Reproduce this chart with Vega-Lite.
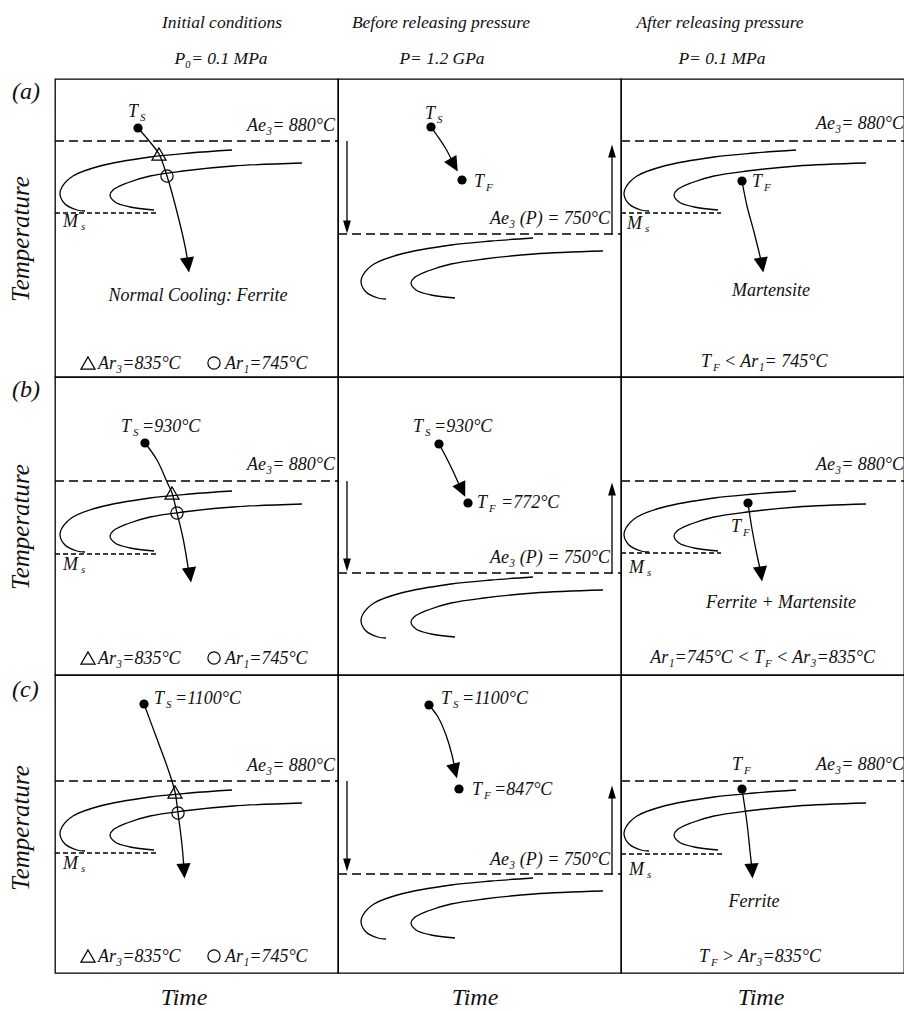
{
  "$schema": "https://vega.github.io/schema/vega-lite/v6.json",
  "padding": {"left": 8, "top": 13, "right": 0, "bottom": 0},
  "background": "white",
  "data": {"values": [
    {"row":"a","col":"initial","kind":"curve","curve":"outer","i":0,"t":177,"T":227},
    {"row":"a","col":"initial","kind":"curve","curve":"outer","i":1,"t":135,"T":224},
    {"row":"a","col":"initial","kind":"curve","curve":"outer","i":2,"t":95,"T":220},
    {"row":"a","col":"initial","kind":"curve","curve":"outer","i":3,"t":45,"T":211},
    {"row":"a","col":"initial","kind":"curve","curve":"outer","i":4,"t":18,"T":201},
    {"row":"a","col":"initial","kind":"curve","curve":"outer","i":5,"t":7,"T":190},
    {"row":"a","col":"initial","kind":"curve","curve":"outer","i":6,"t":5,"T":183},
    {"row":"a","col":"initial","kind":"curve","curve":"outer","i":7,"t":10,"T":173},
    {"row":"a","col":"initial","kind":"curve","curve":"outer","i":8,"t":22,"T":167},
    {"row":"a","col":"initial","kind":"curve","curve":"outer","i":9,"t":30,"T":166},
    {"row":"a","col":"initial","kind":"curve","curve":"inner","i":0,"t":247,"T":214},
    {"row":"a","col":"initial","kind":"curve","curve":"inner","i":1,"t":178,"T":211},
    {"row":"a","col":"initial","kind":"curve","curve":"inner","i":2,"t":128,"T":206},
    {"row":"a","col":"initial","kind":"curve","curve":"inner","i":3,"t":95,"T":201},
    {"row":"a","col":"initial","kind":"curve","curve":"inner","i":4,"t":72,"T":194},
    {"row":"a","col":"initial","kind":"curve","curve":"inner","i":5,"t":58,"T":187},
    {"row":"a","col":"initial","kind":"curve","curve":"inner","i":6,"t":55,"T":182},
    {"row":"a","col":"initial","kind":"curve","curve":"inner","i":7,"t":60,"T":175},
    {"row":"a","col":"initial","kind":"curve","curve":"inner","i":8,"t":75,"T":170},
    {"row":"a","col":"initial","kind":"curve","curve":"inner","i":9,"t":99,"T":167},
    {"row":"b","col":"initial","kind":"curve","curve":"outer","i":0,"t":177,"T":184},
    {"row":"b","col":"initial","kind":"curve","curve":"outer","i":1,"t":135,"T":181},
    {"row":"b","col":"initial","kind":"curve","curve":"outer","i":2,"t":95,"T":177},
    {"row":"b","col":"initial","kind":"curve","curve":"outer","i":3,"t":45,"T":168},
    {"row":"b","col":"initial","kind":"curve","curve":"outer","i":4,"t":18,"T":158},
    {"row":"b","col":"initial","kind":"curve","curve":"outer","i":5,"t":7,"T":147},
    {"row":"b","col":"initial","kind":"curve","curve":"outer","i":6,"t":5,"T":140},
    {"row":"b","col":"initial","kind":"curve","curve":"outer","i":7,"t":10,"T":130},
    {"row":"b","col":"initial","kind":"curve","curve":"outer","i":8,"t":22,"T":124},
    {"row":"b","col":"initial","kind":"curve","curve":"outer","i":9,"t":30,"T":123},
    {"row":"b","col":"initial","kind":"curve","curve":"inner","i":0,"t":247,"T":171},
    {"row":"b","col":"initial","kind":"curve","curve":"inner","i":1,"t":178,"T":168},
    {"row":"b","col":"initial","kind":"curve","curve":"inner","i":2,"t":128,"T":163},
    {"row":"b","col":"initial","kind":"curve","curve":"inner","i":3,"t":95,"T":158},
    {"row":"b","col":"initial","kind":"curve","curve":"inner","i":4,"t":72,"T":151},
    {"row":"b","col":"initial","kind":"curve","curve":"inner","i":5,"t":58,"T":144},
    {"row":"b","col":"initial","kind":"curve","curve":"inner","i":6,"t":55,"T":139},
    {"row":"b","col":"initial","kind":"curve","curve":"inner","i":7,"t":60,"T":132},
    {"row":"b","col":"initial","kind":"curve","curve":"inner","i":8,"t":75,"T":127},
    {"row":"b","col":"initial","kind":"curve","curve":"inner","i":9,"t":99,"T":124},
    {"row":"c","col":"initial","kind":"curve","curve":"outer","i":0,"t":177,"T":183},
    {"row":"c","col":"initial","kind":"curve","curve":"outer","i":1,"t":135,"T":180},
    {"row":"c","col":"initial","kind":"curve","curve":"outer","i":2,"t":95,"T":176},
    {"row":"c","col":"initial","kind":"curve","curve":"outer","i":3,"t":45,"T":167},
    {"row":"c","col":"initial","kind":"curve","curve":"outer","i":4,"t":18,"T":157},
    {"row":"c","col":"initial","kind":"curve","curve":"outer","i":5,"t":7,"T":146},
    {"row":"c","col":"initial","kind":"curve","curve":"outer","i":6,"t":5,"T":139},
    {"row":"c","col":"initial","kind":"curve","curve":"outer","i":7,"t":10,"T":129},
    {"row":"c","col":"initial","kind":"curve","curve":"outer","i":8,"t":22,"T":123},
    {"row":"c","col":"initial","kind":"curve","curve":"outer","i":9,"t":30,"T":122},
    {"row":"c","col":"initial","kind":"curve","curve":"inner","i":0,"t":247,"T":170},
    {"row":"c","col":"initial","kind":"curve","curve":"inner","i":1,"t":178,"T":167},
    {"row":"c","col":"initial","kind":"curve","curve":"inner","i":2,"t":128,"T":162},
    {"row":"c","col":"initial","kind":"curve","curve":"inner","i":3,"t":95,"T":157},
    {"row":"c","col":"initial","kind":"curve","curve":"inner","i":4,"t":72,"T":150},
    {"row":"c","col":"initial","kind":"curve","curve":"inner","i":5,"t":58,"T":143},
    {"row":"c","col":"initial","kind":"curve","curve":"inner","i":6,"t":55,"T":138},
    {"row":"c","col":"initial","kind":"curve","curve":"inner","i":7,"t":60,"T":131},
    {"row":"c","col":"initial","kind":"curve","curve":"inner","i":8,"t":75,"T":126},
    {"row":"c","col":"initial","kind":"curve","curve":"inner","i":9,"t":99,"T":123},
    {"row":"a","col":"after","kind":"curve","curve":"outer","i":0,"t":175,"T":227},
    {"row":"a","col":"after","kind":"curve","curve":"outer","i":1,"t":133,"T":224},
    {"row":"a","col":"after","kind":"curve","curve":"outer","i":2,"t":93,"T":220},
    {"row":"a","col":"after","kind":"curve","curve":"outer","i":3,"t":43,"T":211},
    {"row":"a","col":"after","kind":"curve","curve":"outer","i":4,"t":16,"T":201},
    {"row":"a","col":"after","kind":"curve","curve":"outer","i":5,"t":5,"T":190},
    {"row":"a","col":"after","kind":"curve","curve":"outer","i":6,"t":3,"T":183},
    {"row":"a","col":"after","kind":"curve","curve":"outer","i":7,"t":8,"T":173},
    {"row":"a","col":"after","kind":"curve","curve":"outer","i":8,"t":20,"T":167},
    {"row":"a","col":"after","kind":"curve","curve":"outer","i":9,"t":28,"T":166},
    {"row":"a","col":"after","kind":"curve","curve":"inner","i":0,"t":245,"T":214},
    {"row":"a","col":"after","kind":"curve","curve":"inner","i":1,"t":176,"T":211},
    {"row":"a","col":"after","kind":"curve","curve":"inner","i":2,"t":126,"T":206},
    {"row":"a","col":"after","kind":"curve","curve":"inner","i":3,"t":93,"T":201},
    {"row":"a","col":"after","kind":"curve","curve":"inner","i":4,"t":70,"T":194},
    {"row":"a","col":"after","kind":"curve","curve":"inner","i":5,"t":56,"T":187},
    {"row":"a","col":"after","kind":"curve","curve":"inner","i":6,"t":53,"T":182},
    {"row":"a","col":"after","kind":"curve","curve":"inner","i":7,"t":58,"T":175},
    {"row":"a","col":"after","kind":"curve","curve":"inner","i":8,"t":73,"T":170},
    {"row":"a","col":"after","kind":"curve","curve":"inner","i":9,"t":97,"T":167},
    {"row":"b","col":"after","kind":"curve","curve":"outer","i":0,"t":175,"T":184},
    {"row":"b","col":"after","kind":"curve","curve":"outer","i":1,"t":133,"T":181},
    {"row":"b","col":"after","kind":"curve","curve":"outer","i":2,"t":93,"T":177},
    {"row":"b","col":"after","kind":"curve","curve":"outer","i":3,"t":43,"T":168},
    {"row":"b","col":"after","kind":"curve","curve":"outer","i":4,"t":16,"T":158},
    {"row":"b","col":"after","kind":"curve","curve":"outer","i":5,"t":5,"T":147},
    {"row":"b","col":"after","kind":"curve","curve":"outer","i":6,"t":3,"T":140},
    {"row":"b","col":"after","kind":"curve","curve":"outer","i":7,"t":8,"T":130},
    {"row":"b","col":"after","kind":"curve","curve":"outer","i":8,"t":20,"T":124},
    {"row":"b","col":"after","kind":"curve","curve":"outer","i":9,"t":28,"T":123},
    {"row":"b","col":"after","kind":"curve","curve":"inner","i":0,"t":245,"T":171},
    {"row":"b","col":"after","kind":"curve","curve":"inner","i":1,"t":176,"T":168},
    {"row":"b","col":"after","kind":"curve","curve":"inner","i":2,"t":126,"T":163},
    {"row":"b","col":"after","kind":"curve","curve":"inner","i":3,"t":93,"T":158},
    {"row":"b","col":"after","kind":"curve","curve":"inner","i":4,"t":70,"T":151},
    {"row":"b","col":"after","kind":"curve","curve":"inner","i":5,"t":56,"T":144},
    {"row":"b","col":"after","kind":"curve","curve":"inner","i":6,"t":53,"T":139},
    {"row":"b","col":"after","kind":"curve","curve":"inner","i":7,"t":58,"T":132},
    {"row":"b","col":"after","kind":"curve","curve":"inner","i":8,"t":73,"T":127},
    {"row":"b","col":"after","kind":"curve","curve":"inner","i":9,"t":97,"T":124},
    {"row":"c","col":"after","kind":"curve","curve":"outer","i":0,"t":175,"T":183},
    {"row":"c","col":"after","kind":"curve","curve":"outer","i":1,"t":133,"T":180},
    {"row":"c","col":"after","kind":"curve","curve":"outer","i":2,"t":93,"T":176},
    {"row":"c","col":"after","kind":"curve","curve":"outer","i":3,"t":43,"T":167},
    {"row":"c","col":"after","kind":"curve","curve":"outer","i":4,"t":16,"T":157},
    {"row":"c","col":"after","kind":"curve","curve":"outer","i":5,"t":5,"T":146},
    {"row":"c","col":"after","kind":"curve","curve":"outer","i":6,"t":3,"T":139},
    {"row":"c","col":"after","kind":"curve","curve":"outer","i":7,"t":8,"T":129},
    {"row":"c","col":"after","kind":"curve","curve":"outer","i":8,"t":20,"T":123},
    {"row":"c","col":"after","kind":"curve","curve":"outer","i":9,"t":28,"T":122},
    {"row":"c","col":"after","kind":"curve","curve":"inner","i":0,"t":245,"T":170},
    {"row":"c","col":"after","kind":"curve","curve":"inner","i":1,"t":176,"T":167},
    {"row":"c","col":"after","kind":"curve","curve":"inner","i":2,"t":126,"T":162},
    {"row":"c","col":"after","kind":"curve","curve":"inner","i":3,"t":93,"T":157},
    {"row":"c","col":"after","kind":"curve","curve":"inner","i":4,"t":70,"T":150},
    {"row":"c","col":"after","kind":"curve","curve":"inner","i":5,"t":56,"T":143},
    {"row":"c","col":"after","kind":"curve","curve":"inner","i":6,"t":53,"T":138},
    {"row":"c","col":"after","kind":"curve","curve":"inner","i":7,"t":58,"T":131},
    {"row":"c","col":"after","kind":"curve","curve":"inner","i":8,"t":73,"T":126},
    {"row":"c","col":"after","kind":"curve","curve":"inner","i":9,"t":97,"T":123},
    {"row":"a","col":"before","kind":"curve","curve":"outer","i":0,"t":195,"T":139},
    {"row":"a","col":"before","kind":"curve","curve":"outer","i":1,"t":153,"T":136},
    {"row":"a","col":"before","kind":"curve","curve":"outer","i":2,"t":113,"T":132},
    {"row":"a","col":"before","kind":"curve","curve":"outer","i":3,"t":63,"T":123},
    {"row":"a","col":"before","kind":"curve","curve":"outer","i":4,"t":36,"T":113},
    {"row":"a","col":"before","kind":"curve","curve":"outer","i":5,"t":25,"T":102},
    {"row":"a","col":"before","kind":"curve","curve":"outer","i":6,"t":23,"T":95},
    {"row":"a","col":"before","kind":"curve","curve":"outer","i":7,"t":28,"T":85},
    {"row":"a","col":"before","kind":"curve","curve":"outer","i":8,"t":40,"T":79},
    {"row":"a","col":"before","kind":"curve","curve":"outer","i":9,"t":48,"T":78},
    {"row":"a","col":"before","kind":"curve","curve":"inner","i":0,"t":265,"T":126},
    {"row":"a","col":"before","kind":"curve","curve":"inner","i":1,"t":196,"T":123},
    {"row":"a","col":"before","kind":"curve","curve":"inner","i":2,"t":146,"T":118},
    {"row":"a","col":"before","kind":"curve","curve":"inner","i":3,"t":113,"T":113},
    {"row":"a","col":"before","kind":"curve","curve":"inner","i":4,"t":90,"T":106},
    {"row":"a","col":"before","kind":"curve","curve":"inner","i":5,"t":76,"T":99},
    {"row":"a","col":"before","kind":"curve","curve":"inner","i":6,"t":73,"T":94},
    {"row":"a","col":"before","kind":"curve","curve":"inner","i":7,"t":78,"T":87},
    {"row":"a","col":"before","kind":"curve","curve":"inner","i":8,"t":93,"T":82},
    {"row":"a","col":"before","kind":"curve","curve":"inner","i":9,"t":117,"T":79},
    {"row":"b","col":"before","kind":"curve","curve":"outer","i":0,"t":195,"T":98},
    {"row":"b","col":"before","kind":"curve","curve":"outer","i":1,"t":153,"T":95},
    {"row":"b","col":"before","kind":"curve","curve":"outer","i":2,"t":113,"T":91},
    {"row":"b","col":"before","kind":"curve","curve":"outer","i":3,"t":63,"T":82},
    {"row":"b","col":"before","kind":"curve","curve":"outer","i":4,"t":36,"T":72},
    {"row":"b","col":"before","kind":"curve","curve":"outer","i":5,"t":25,"T":61},
    {"row":"b","col":"before","kind":"curve","curve":"outer","i":6,"t":23,"T":54},
    {"row":"b","col":"before","kind":"curve","curve":"outer","i":7,"t":28,"T":44},
    {"row":"b","col":"before","kind":"curve","curve":"outer","i":8,"t":40,"T":38},
    {"row":"b","col":"before","kind":"curve","curve":"outer","i":9,"t":48,"T":37},
    {"row":"b","col":"before","kind":"curve","curve":"inner","i":0,"t":265,"T":85},
    {"row":"b","col":"before","kind":"curve","curve":"inner","i":1,"t":196,"T":82},
    {"row":"b","col":"before","kind":"curve","curve":"inner","i":2,"t":146,"T":77},
    {"row":"b","col":"before","kind":"curve","curve":"inner","i":3,"t":113,"T":72},
    {"row":"b","col":"before","kind":"curve","curve":"inner","i":4,"t":90,"T":65},
    {"row":"b","col":"before","kind":"curve","curve":"inner","i":5,"t":76,"T":58},
    {"row":"b","col":"before","kind":"curve","curve":"inner","i":6,"t":73,"T":53},
    {"row":"b","col":"before","kind":"curve","curve":"inner","i":7,"t":78,"T":46},
    {"row":"b","col":"before","kind":"curve","curve":"inner","i":8,"t":93,"T":41},
    {"row":"b","col":"before","kind":"curve","curve":"inner","i":9,"t":117,"T":38},
    {"row":"c","col":"before","kind":"curve","curve":"outer","i":0,"t":195,"T":95},
    {"row":"c","col":"before","kind":"curve","curve":"outer","i":1,"t":153,"T":92},
    {"row":"c","col":"before","kind":"curve","curve":"outer","i":2,"t":113,"T":88},
    {"row":"c","col":"before","kind":"curve","curve":"outer","i":3,"t":63,"T":79},
    {"row":"c","col":"before","kind":"curve","curve":"outer","i":4,"t":36,"T":69},
    {"row":"c","col":"before","kind":"curve","curve":"outer","i":5,"t":25,"T":58},
    {"row":"c","col":"before","kind":"curve","curve":"outer","i":6,"t":23,"T":51},
    {"row":"c","col":"before","kind":"curve","curve":"outer","i":7,"t":28,"T":41},
    {"row":"c","col":"before","kind":"curve","curve":"outer","i":8,"t":40,"T":35},
    {"row":"c","col":"before","kind":"curve","curve":"outer","i":9,"t":48,"T":34},
    {"row":"c","col":"before","kind":"curve","curve":"inner","i":0,"t":265,"T":82},
    {"row":"c","col":"before","kind":"curve","curve":"inner","i":1,"t":196,"T":79},
    {"row":"c","col":"before","kind":"curve","curve":"inner","i":2,"t":146,"T":74},
    {"row":"c","col":"before","kind":"curve","curve":"inner","i":3,"t":113,"T":69},
    {"row":"c","col":"before","kind":"curve","curve":"inner","i":4,"t":90,"T":62},
    {"row":"c","col":"before","kind":"curve","curve":"inner","i":5,"t":76,"T":55},
    {"row":"c","col":"before","kind":"curve","curve":"inner","i":6,"t":73,"T":50},
    {"row":"c","col":"before","kind":"curve","curve":"inner","i":7,"t":78,"T":43},
    {"row":"c","col":"before","kind":"curve","curve":"inner","i":8,"t":93,"T":38},
    {"row":"c","col":"before","kind":"curve","curve":"inner","i":9,"t":117,"T":35},

    {"row":"a","col":"initial","kind":"curve","curve":"path","i":0,"t":83,"T":249},
    {"row":"a","col":"initial","kind":"curve","curve":"path","i":1,"t":95,"T":235},
    {"row":"a","col":"initial","kind":"curve","curve":"path","i":2,"t":104,"T":223},
    {"row":"a","col":"initial","kind":"curve","curve":"path","i":3,"t":112,"T":201},
    {"row":"a","col":"initial","kind":"curve","curve":"path","i":4,"t":122,"T":165},
    {"row":"a","col":"initial","kind":"curve","curve":"path","i":5,"t":130,"T":131},
    {"row":"a","col":"initial","kind":"curve","curve":"path","i":6,"t":133,"T":114},
    {"row":"a","col":"before","kind":"curve","curve":"path","i":0,"t":93,"T":250},
    {"row":"a","col":"before","kind":"curve","curve":"path","i":1,"t":98,"T":243},
    {"row":"a","col":"before","kind":"curve","curve":"path","i":2,"t":108,"T":228},
    {"row":"a","col":"before","kind":"curve","curve":"path","i":3,"t":116,"T":212},
    {"row":"a","col":"after","kind":"curve","curve":"path","i":0,"t":121,"T":196},
    {"row":"a","col":"after","kind":"curve","curve":"path","i":1,"t":126,"T":171},
    {"row":"a","col":"after","kind":"curve","curve":"path","i":2,"t":133,"T":145},
    {"row":"a","col":"after","kind":"curve","curve":"path","i":3,"t":138,"T":125},
    {"row":"a","col":"after","kind":"curve","curve":"path","i":4,"t":141,"T":112},
    {"row":"b","col":"initial","kind":"curve","curve":"path","i":0,"t":90,"T":232},
    {"row":"b","col":"initial","kind":"curve","curve":"path","i":1,"t":102,"T":215},
    {"row":"b","col":"initial","kind":"curve","curve":"path","i":2,"t":112,"T":193},
    {"row":"b","col":"initial","kind":"curve","curve":"path","i":3,"t":117,"T":182},
    {"row":"b","col":"initial","kind":"curve","curve":"path","i":4,"t":122,"T":162},
    {"row":"b","col":"initial","kind":"curve","curve":"path","i":5,"t":128,"T":137},
    {"row":"b","col":"initial","kind":"curve","curve":"path","i":6,"t":134,"T":102},
    {"row":"b","col":"before","kind":"curve","curve":"path","i":0,"t":101,"T":231},
    {"row":"b","col":"before","kind":"curve","curve":"path","i":1,"t":107,"T":220},
    {"row":"b","col":"before","kind":"curve","curve":"path","i":2,"t":114,"T":206},
    {"row":"b","col":"before","kind":"curve","curve":"path","i":3,"t":123,"T":186},
    {"row":"b","col":"after","kind":"curve","curve":"path","i":0,"t":127,"T":172},
    {"row":"b","col":"after","kind":"curve","curve":"path","i":1,"t":131,"T":146},
    {"row":"b","col":"after","kind":"curve","curve":"path","i":2,"t":136,"T":120},
    {"row":"b","col":"after","kind":"curve","curve":"path","i":3,"t":140,"T":102},
    {"row":"c","col":"initial","kind":"curve","curve":"path","i":0,"t":89,"T":269},
    {"row":"c","col":"initial","kind":"curve","curve":"path","i":1,"t":102,"T":234},
    {"row":"c","col":"initial","kind":"curve","curve":"path","i":2,"t":113,"T":204},
    {"row":"c","col":"initial","kind":"curve","curve":"path","i":3,"t":120,"T":181},
    {"row":"c","col":"initial","kind":"curve","curve":"path","i":4,"t":123,"T":160},
    {"row":"c","col":"initial","kind":"curve","curve":"path","i":5,"t":127,"T":128},
    {"row":"c","col":"initial","kind":"curve","curve":"path","i":6,"t":129,"T":104},
    {"row":"c","col":"before","kind":"curve","curve":"path","i":0,"t":91,"T":268},
    {"row":"c","col":"before","kind":"curve","curve":"path","i":1,"t":100,"T":256},
    {"row":"c","col":"before","kind":"curve","curve":"path","i":2,"t":108,"T":238},
    {"row":"c","col":"before","kind":"curve","curve":"path","i":3,"t":114,"T":218},
    {"row":"c","col":"before","kind":"curve","curve":"path","i":4,"t":117,"T":203},
    {"row":"c","col":"after","kind":"curve","curve":"path","i":0,"t":121,"T":184},
    {"row":"c","col":"after","kind":"curve","curve":"path","i":1,"t":126,"T":150},
    {"row":"c","col":"after","kind":"curve","curve":"path","i":2,"t":129,"T":122},
    {"row":"c","col":"after","kind":"curve","curve":"path","i":3,"t":131,"T":104},

    {"row":"a","col":"initial","kind":"head","head":"main","t":133,"T":112,"heading":172},
    {"row":"a","col":"before","kind":"head","head":"main","t":116,"T":212,"heading":150},
    {"row":"a","col":"before","kind":"head","head":"thin","t":9,"T":150,"heading":180},
    {"row":"a","col":"before","kind":"head","head":"thin","t":274,"T":226,"heading":0},
    {"row":"a","col":"after","kind":"head","head":"main","t":141,"T":112,"heading":170},
    {"row":"b","col":"initial","kind":"head","head":"main","t":135,"T":100,"heading":172},
    {"row":"b","col":"before","kind":"head","head":"main","t":124,"T":185,"heading":155},
    {"row":"b","col":"before","kind":"head","head":"thin","t":9,"T":110,"heading":180},
    {"row":"b","col":"before","kind":"head","head":"thin","t":274,"T":186,"heading":0},
    {"row":"b","col":"after","kind":"head","head":"main","t":140,"T":101,"heading":172},
    {"row":"c","col":"initial","kind":"head","head":"main","t":129,"T":102,"heading":176},
    {"row":"c","col":"before","kind":"head","head":"main","t":117,"T":202,"heading":165},
    {"row":"c","col":"before","kind":"head","head":"thin","t":9,"T":108,"heading":180},
    {"row":"c","col":"before","kind":"head","head":"thin","t":274,"T":181,"heading":0},
    {"row":"c","col":"after","kind":"head","head":"main","t":131,"T":102,"heading":176},

    {"row":"a","col":"initial","kind":"rule","line":"Ae3","t":0,"t2":283,"T":236,"T2":236},
    {"row":"a","col":"initial","kind":"rule","line":"Ms","t":0,"t2":101,"T":164,"T2":164},
    {"row":"a","col":"before","kind":"rule","line":"Ae3","t":0,"t2":283,"T":143,"T2":143},
    {"row":"a","col":"before","kind":"rule","line":"shaft","t":9,"t2":9,"T":236,"T2":150},
    {"row":"a","col":"before","kind":"rule","line":"shaft","t":274,"t2":274,"T":143,"T2":226},
    {"row":"a","col":"after","kind":"rule","line":"Ae3","t":0,"t2":283,"T":236,"T2":236},
    {"row":"a","col":"after","kind":"rule","line":"Ms","t":0,"t2":100,"T":164,"T2":164},
    {"row":"b","col":"initial","kind":"rule","line":"Ae3","t":0,"t2":283,"T":194,"T2":194},
    {"row":"b","col":"initial","kind":"rule","line":"Ms","t":0,"t2":101,"T":121,"T2":121},
    {"row":"b","col":"before","kind":"rule","line":"Ae3","t":0,"t2":283,"T":102,"T2":102},
    {"row":"b","col":"before","kind":"rule","line":"shaft","t":9,"t2":9,"T":194,"T2":110},
    {"row":"b","col":"before","kind":"rule","line":"shaft","t":274,"t2":274,"T":102,"T2":186},
    {"row":"b","col":"after","kind":"rule","line":"Ae3","t":0,"t2":283,"T":194,"T2":194},
    {"row":"b","col":"after","kind":"rule","line":"Ms","t":0,"t2":100,"T":122,"T2":122},
    {"row":"c","col":"initial","kind":"rule","line":"Ae3","t":0,"t2":283,"T":192,"T2":192},
    {"row":"c","col":"initial","kind":"rule","line":"Ms","t":0,"t2":101,"T":120,"T2":120},
    {"row":"c","col":"before","kind":"rule","line":"Ae3","t":0,"t2":283,"T":99,"T2":99},
    {"row":"c","col":"before","kind":"rule","line":"shaft","t":9,"t2":9,"T":192,"T2":108},
    {"row":"c","col":"before","kind":"rule","line":"shaft","t":274,"t2":274,"T":99,"T2":181},
    {"row":"c","col":"after","kind":"rule","line":"Ae3","t":0,"t2":283,"T":192,"T2":192},
    {"row":"c","col":"after","kind":"rule","line":"Ms","t":0,"t2":102,"T":119,"T2":119},

    {"row":"a","col":"initial","kind":"dot","t":83,"T":249},
    {"row":"a","col":"before","kind":"dot","t":93,"T":250},
    {"row":"a","col":"before","kind":"dot","t":124,"T":197},
    {"row":"a","col":"after","kind":"dot","t":121,"T":196},
    {"row":"b","col":"initial","kind":"dot","t":90,"T":232},
    {"row":"b","col":"before","kind":"dot","t":101,"T":231},
    {"row":"b","col":"before","kind":"dot","t":130,"T":172},
    {"row":"b","col":"after","kind":"dot","t":127,"T":172},
    {"row":"c","col":"initial","kind":"dot","t":89,"T":269},
    {"row":"c","col":"before","kind":"dot","t":91,"T":268},
    {"row":"c","col":"before","kind":"dot","t":121,"T":184},
    {"row":"c","col":"after","kind":"dot","t":121,"T":184},

    {"row":"a","col":"initial","kind":"marker","symbol":"Ar3","t":104,"T":223},
    {"row":"a","col":"initial","kind":"marker","symbol":"Ar1","t":112,"T":201},
    {"row":"a","col":"initial","kind":"marker","symbol":"Ar3","t":33,"T":14},
    {"row":"a","col":"initial","kind":"marker","symbol":"Ar1","t":159,"T":14},
    {"row":"b","col":"initial","kind":"marker","symbol":"Ar3","t":117,"T":182},
    {"row":"b","col":"initial","kind":"marker","symbol":"Ar1","t":122,"T":162},
    {"row":"b","col":"initial","kind":"marker","symbol":"Ar3","t":33,"T":17},
    {"row":"b","col":"initial","kind":"marker","symbol":"Ar1","t":159,"T":17},
    {"row":"c","col":"initial","kind":"marker","symbol":"Ar3","t":120,"T":181},
    {"row":"c","col":"initial","kind":"marker","symbol":"Ar1","t":123,"T":160},
    {"row":"c","col":"initial","kind":"marker","symbol":"Ar3","t":33,"T":17},
    {"row":"c","col":"initial","kind":"marker","symbol":"Ar1","t":159,"T":17},

    {"row":"a","col":"initial","kind":"text","role":"tag","anchor":"start","t":-43,"T":278,"text":"(a)"},
    {"row":"a","col":"initial","kind":"text","role":"ytitle","anchor":"rot","t":-26,"T":138,"text":"Temperature"},
    {"row":"a","col":"initial","kind":"text","role":"head","anchor":"middle","t":167,"T":349,"text":"Initial conditions"},
    {"row":"a","col":"initial","kind":"text","role":"head","anchor":"middle","t":166,"T":313,"text":"P₀= 0.1 MPa"},
    {"row":"a","col":"initial","kind":"text","role":"label","anchor":"end","t":280,"T":246,"text":"Ae₃= 880°C"},
    {"row":"a","col":"initial","kind":"text","role":"label","anchor":"start","t":73,"T":260,"text":"T"},
    {"row":"a","col":"initial","kind":"text","role":"sub","anchor":"start","t":85,"T":256,"text":"S"},
    {"row":"a","col":"initial","kind":"text","role":"label","anchor":"start","t":8,"T":150,"text":"M"},
    {"row":"a","col":"initial","kind":"text","role":"sub","anchor":"start","t":26,"T":147,"text":"s"},
    {"row":"a","col":"initial","kind":"text","role":"label","anchor":"middle","t":143,"T":76,"text":"Normal Cooling: Ferrite"},
    {"row":"a","col":"initial","kind":"text","role":"label","anchor":"start","t":43,"T":8,"text":"Ar₃=835°C"},
    {"row":"a","col":"initial","kind":"text","role":"label","anchor":"start","t":170,"T":8,"text":"Ar₁=745°C"},
    {"row":"a","col":"before","kind":"text","role":"head","anchor":"middle","t":103,"T":349,"text":"Before releasing pressure"},
    {"row":"a","col":"before","kind":"text","role":"head","anchor":"middle","t":104,"T":313,"text":"P= 1.2 GPa"},
    {"row":"a","col":"before","kind":"text","role":"label","anchor":"start","t":87,"T":258,"text":"T"},
    {"row":"a","col":"before","kind":"text","role":"sub","anchor":"start","t":99,"T":254,"text":"S"},
    {"row":"a","col":"before","kind":"text","role":"label","anchor":"start","t":136,"T":190,"text":"T"},
    {"row":"a","col":"before","kind":"text","role":"sub","anchor":"start","t":148,"T":186,"text":"F"},
    {"row":"a","col":"before","kind":"text","role":"label","anchor":"end","t":272,"T":153,"text":"Ae₃ (P) = 750°C"},
    {"row":"a","col":"after","kind":"text","role":"head","anchor":"middle","t":99,"T":349,"text":"After releasing pressure"},
    {"row":"a","col":"after","kind":"text","role":"head","anchor":"middle","t":101,"T":313,"text":"P= 0.1 MPa"},
    {"row":"a","col":"after","kind":"text","role":"label","anchor":"end","t":283,"T":248,"text":"Ae₃= 880°C"},
    {"row":"a","col":"after","kind":"text","role":"label","anchor":"start","t":131,"T":190,"text":"T"},
    {"row":"a","col":"after","kind":"text","role":"sub","anchor":"start","t":143,"T":186,"text":"F"},
    {"row":"a","col":"after","kind":"text","role":"label","anchor":"start","t":6,"T":148,"text":"M"},
    {"row":"a","col":"after","kind":"text","role":"sub","anchor":"start","t":24,"T":145,"text":"s"},
    {"row":"a","col":"after","kind":"text","role":"label","anchor":"middle","t":150,"T":81,"text":"Martensite"},
    {"row":"a","col":"after","kind":"text","role":"label","anchor":"start","t":80,"T":10,"text":"T"},
    {"row":"a","col":"after","kind":"text","role":"sub","anchor":"start","t":92,"T":6,"text":"F"},
    {"row":"a","col":"after","kind":"text","role":"label","anchor":"start","t":103,"T":10,"text":"< Ar₁= 745°C"},
    {"row":"b","col":"initial","kind":"text","role":"tag","anchor":"start","t":-43,"T":278,"text":"(b)"},
    {"row":"b","col":"initial","kind":"text","role":"ytitle","anchor":"rot","t":-26,"T":148,"text":"Temperature"},
    {"row":"b","col":"initial","kind":"text","role":"label","anchor":"end","t":280,"T":205,"text":"Ae₃= 880°C"},
    {"row":"b","col":"initial","kind":"text","role":"label","anchor":"start","t":66,"T":243,"text":"T"},
    {"row":"b","col":"initial","kind":"text","role":"sub","anchor":"start","t":78,"T":239,"text":"S"},
    {"row":"b","col":"initial","kind":"text","role":"label","anchor":"start","t":87,"T":243,"text":"=930°C"},
    {"row":"b","col":"initial","kind":"text","role":"label","anchor":"start","t":8,"T":105,"text":"M"},
    {"row":"b","col":"initial","kind":"text","role":"sub","anchor":"start","t":26,"T":102,"text":"s"},
    {"row":"b","col":"initial","kind":"text","role":"label","anchor":"start","t":43,"T":11,"text":"Ar₃=835°C"},
    {"row":"b","col":"initial","kind":"text","role":"label","anchor":"start","t":170,"T":11,"text":"Ar₁=745°C"},
    {"row":"b","col":"before","kind":"text","role":"label","anchor":"start","t":75,"T":243,"text":"T"},
    {"row":"b","col":"before","kind":"text","role":"sub","anchor":"start","t":87,"T":239,"text":"S"},
    {"row":"b","col":"before","kind":"text","role":"label","anchor":"start","t":96,"T":243,"text":"=930°C"},
    {"row":"b","col":"before","kind":"text","role":"label","anchor":"start","t":139,"T":167,"text":"T"},
    {"row":"b","col":"before","kind":"text","role":"sub","anchor":"start","t":151,"T":163,"text":"F"},
    {"row":"b","col":"before","kind":"text","role":"label","anchor":"start","t":163,"T":167,"text":"=772°C"},
    {"row":"b","col":"before","kind":"text","role":"label","anchor":"end","t":272,"T":112,"text":"Ae₃ (P) = 750°C"},
    {"row":"b","col":"after","kind":"text","role":"label","anchor":"end","t":283,"T":205,"text":"Ae₃= 880°C"},
    {"row":"b","col":"after","kind":"text","role":"label","anchor":"start","t":110,"T":143,"text":"T"},
    {"row":"b","col":"after","kind":"text","role":"sub","anchor":"start","t":122,"T":139,"text":"F"},
    {"row":"b","col":"after","kind":"text","role":"label","anchor":"start","t":8,"T":102,"text":"M"},
    {"row":"b","col":"after","kind":"text","role":"sub","anchor":"start","t":26,"T":99,"text":"s"},
    {"row":"b","col":"after","kind":"text","role":"label","anchor":"middle","t":160,"T":67,"text":"Ferrite + Martensite"},
    {"row":"b","col":"after","kind":"text","role":"label","anchor":"end","t":143,"T":12,"text":"Ar₁=745°C < T"},
    {"row":"b","col":"after","kind":"text","role":"sub","anchor":"start","t":144,"T":8,"text":"F"},
    {"row":"b","col":"after","kind":"text","role":"label","anchor":"start","t":155,"T":12,"text":"< Ar₃=835°C"},
    {"row":"c","col":"initial","kind":"text","role":"tag","anchor":"start","t":-43,"T":276,"text":"(c)"},
    {"row":"c","col":"initial","kind":"text","role":"ytitle","anchor":"rot","t":-26,"T":145,"text":"Temperature"},
    {"row":"c","col":"initial","kind":"text","role":"label","anchor":"start","t":99,"T":269,"text":"T"},
    {"row":"c","col":"initial","kind":"text","role":"sub","anchor":"start","t":111,"T":265,"text":"S"},
    {"row":"c","col":"initial","kind":"text","role":"label","anchor":"start","t":120,"T":269,"text":"=1100°C"},
    {"row":"c","col":"initial","kind":"text","role":"label","anchor":"end","t":280,"T":202,"text":"Ae₃= 880°C"},
    {"row":"c","col":"initial","kind":"text","role":"label","anchor":"start","t":8,"T":104,"text":"M"},
    {"row":"c","col":"initial","kind":"text","role":"sub","anchor":"start","t":26,"T":101,"text":"s"},
    {"row":"c","col":"initial","kind":"text","role":"label","anchor":"start","t":43,"T":11,"text":"Ar₃=835°C"},
    {"row":"c","col":"initial","kind":"text","role":"label","anchor":"start","t":170,"T":11,"text":"Ar₁=745°C"},
    {"row":"c","col":"initial","kind":"text","role":"xtitle","anchor":"middle","t":129,"T":-32,"text":"Time"},
    {"row":"c","col":"before","kind":"text","role":"label","anchor":"start","t":103,"T":269,"text":"T"},
    {"row":"c","col":"before","kind":"text","role":"sub","anchor":"start","t":115,"T":265,"text":"S"},
    {"row":"c","col":"before","kind":"text","role":"label","anchor":"start","t":124,"T":269,"text":"=1100°C"},
    {"row":"c","col":"before","kind":"text","role":"label","anchor":"start","t":134,"T":178,"text":"T"},
    {"row":"c","col":"before","kind":"text","role":"sub","anchor":"start","t":146,"T":174,"text":"F"},
    {"row":"c","col":"before","kind":"text","role":"label","anchor":"start","t":156,"T":178,"text":"=847°C"},
    {"row":"c","col":"before","kind":"text","role":"label","anchor":"end","t":272,"T":108,"text":"Ae₃ (P) = 750°C"},
    {"row":"c","col":"before","kind":"text","role":"xtitle","anchor":"middle","t":137,"T":-32,"text":"Time"},
    {"row":"c","col":"after","kind":"text","role":"label","anchor":"end","t":283,"T":203,"text":"Ae₃= 880°C"},
    {"row":"c","col":"after","kind":"text","role":"label","anchor":"start","t":111,"T":203,"text":"T"},
    {"row":"c","col":"after","kind":"text","role":"sub","anchor":"start","t":123,"T":199,"text":"F"},
    {"row":"c","col":"after","kind":"text","role":"label","anchor":"start","t":8,"T":98,"text":"M"},
    {"row":"c","col":"after","kind":"text","role":"sub","anchor":"start","t":26,"T":95,"text":"s"},
    {"row":"c","col":"after","kind":"text","role":"label","anchor":"middle","t":133,"T":66,"text":"Ferrite"},
    {"row":"c","col":"after","kind":"text","role":"label","anchor":"start","t":78,"T":11,"text":"T"},
    {"row":"c","col":"after","kind":"text","role":"sub","anchor":"start","t":90,"T":7,"text":"F"},
    {"row":"c","col":"after","kind":"text","role":"label","anchor":"start","t":101,"T":11,"text":"> Ar₃=835°C"},
    {"row":"c","col":"after","kind":"text","role":"xtitle","anchor":"middle","t":140,"T":-32,"text":"Time"}
  ]},
  "facet": {
    "row": {"field": "row", "type": "nominal", "header": null},
    "column": {"field": "col", "type": "nominal", "sort": ["initial", "before", "after"], "header": null}
  },
  "spacing": 0,
  "bounds": "flush",
  "spec": {
    "width": 283,
    "height": 298,
    "encoding": {
      "x": {"field": "t", "type": "quantitative", "scale": {"domain": [0, 283], "nice": false, "zero": false}, "axis": null},
      "y": {"field": "T", "type": "quantitative", "scale": {"domain": [0, 298], "nice": false, "zero": false}, "axis": null}
    },
    "layer": [
      {
        "transform": [{"filter": "datum.kind === 'rule'"}],
        "mark": {"type": "rule", "color": "#000", "strokeWidth": 1.3},
        "encoding": {
          "x2": {"field": "t2"},
          "y2": {"field": "T2"},
          "strokeDash": {"field": "line", "type": "nominal", "scale": {"domain": ["Ae3", "Ms", "shaft"], "range": [[9, 5], [5, 3], [1, 0]]}, "legend": null}
        }
      },
      {
        "transform": [{"filter": "datum.kind === 'curve'"}],
        "mark": {"type": "line", "color": "#000", "strokeWidth": 1.3, "interpolate": "catmull-rom"},
        "encoding": {
          "detail": {"field": "curve", "type": "nominal"},
          "order": {"field": "i", "type": "quantitative"}
        }
      },
      {
        "transform": [{"filter": "datum.kind === 'dot'"}],
        "mark": {"type": "point", "filled": true, "color": "#000", "size": 85, "shape": "circle", "opacity": 1}
      },
      {
        "transform": [{"filter": "datum.kind === 'marker'"}],
        "mark": {"type": "point", "filled": false, "color": "#000", "strokeWidth": 1.2, "opacity": 1},
        "encoding": {
          "shape": {"field": "symbol", "type": "nominal", "scale": {"domain": ["Ar3", "Ar1"], "range": ["triangle-up", "circle"]}, "legend": null},
          "size": {"field": "symbol", "type": "nominal", "scale": {"type": "ordinal", "domain": ["Ar3", "Ar1"], "range": [200, 150]}, "legend": null}
        }
      },
      {
        "transform": [{"filter": "datum.kind === 'head'"}],
        "mark": {"type": "point", "filled": true, "color": "#000", "opacity": 1},
        "encoding": {
          "shape": {"field": "head", "type": "nominal", "scale": {"domain": ["main", "thin"], "range": ["M0,-1L-0.95,1L0.95,1Z", "M0,-1L-0.6,1L0.6,1Z"]}, "legend": null},
          "size": {"field": "head", "type": "nominal", "scale": {"type": "ordinal", "domain": ["main", "thin"], "range": [225, 169]}, "legend": null},
          "angle": {"field": "heading", "type": "quantitative", "scale": null}
        }
      },
      {
        "transform": [{"filter": "datum.kind === 'text' && datum.anchor === 'start'"}],
        "mark": {"type": "text", "align": "left", "baseline": "alphabetic", "font": "Liberation Serif", "fontStyle": "italic", "color": "#111"},
        "encoding": {
          "text": {"field": "text"},
          "size": {"field": "role", "type": "nominal", "scale": {"type": "ordinal", "domain": ["tag", "head", "label", "sub", "xtitle", "ytitle"], "range": [24, 17.5, 18, 11, 24, 25]}, "legend": null}
        }
      },
      {
        "transform": [{"filter": "datum.kind === 'text' && datum.anchor === 'middle'"}],
        "mark": {"type": "text", "align": "center", "baseline": "alphabetic", "font": "Liberation Serif", "fontStyle": "italic", "color": "#111"},
        "encoding": {
          "text": {"field": "text"},
          "size": {"field": "role", "type": "nominal", "scale": {"type": "ordinal", "domain": ["tag", "head", "label", "sub", "xtitle", "ytitle"], "range": [24, 17.5, 18, 11, 24, 25]}, "legend": null}
        }
      },
      {
        "transform": [{"filter": "datum.kind === 'text' && datum.anchor === 'end'"}],
        "mark": {"type": "text", "align": "right", "baseline": "alphabetic", "font": "Liberation Serif", "fontStyle": "italic", "color": "#111"},
        "encoding": {
          "text": {"field": "text"},
          "size": {"field": "role", "type": "nominal", "scale": {"type": "ordinal", "domain": ["tag", "head", "label", "sub", "xtitle", "ytitle"], "range": [24, 17.5, 18, 11, 24, 25]}, "legend": null}
        }
      },
      {
        "transform": [{"filter": "datum.kind === 'text' && datum.anchor === 'rot'"}],
        "mark": {"type": "text", "align": "center", "baseline": "alphabetic", "angle": 270, "font": "Liberation Serif", "fontStyle": "italic", "color": "#111"},
        "encoding": {
          "text": {"field": "text"},
          "size": {"field": "role", "type": "nominal", "scale": {"type": "ordinal", "domain": ["tag", "head", "label", "sub", "xtitle", "ytitle"], "range": [24, 17.5, 18, 11, 24, 25]}, "legend": null}
        }
      }
    ],
    "resolve": {"scale": {"shape": "independent", "size": "independent"}}
  },
  "config": {
    "view": {"stroke": "#000", "strokeWidth": 1.3}
  }
}
